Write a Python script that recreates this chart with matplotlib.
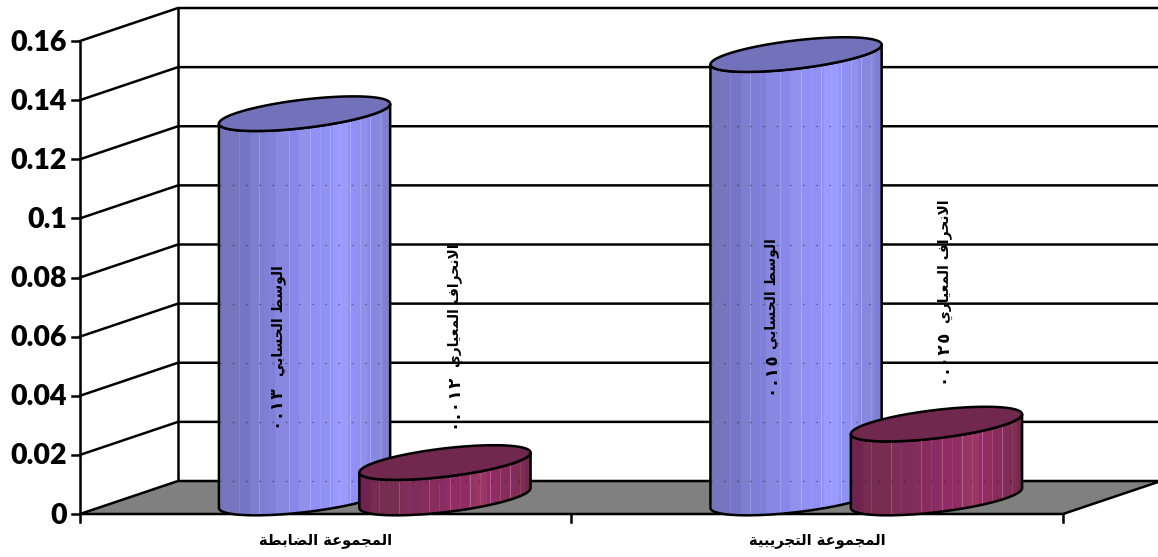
import matplotlib
matplotlib.use("Agg")
import matplotlib.pyplot as plt
from matplotlib.patches import Polygon, PathPatch
from matplotlib.path import Path
import numpy as np

categories = ["المجموعة الضابطة", "المجموعة التجريبية"]
series_names = ["الوسط الحسابي", "الانحراف المعياري"]
mean_values = [0.13, 0.15]
std_values = [0.012, 0.025]
mean_labels = ["٠.١٣", "٠.١٥"]
std_labels = ["٠.٠١٢", "٠.٠٢٥"]
y_ticks = [0, 0.02, 0.04, 0.06, 0.08, 0.1, 0.12, 0.14, 0.16]
y_tick_labels = ["0", "0.02", "0.04", "0.06", "0.08", "0.1", "0.12", "0.14", "0.16"]

# presentation forms: isolated, final, initial, medial
FORMS = {
    "ا": (0xFE8D, 0xFE8E, None, None), "ب": (0xFE8F, 0xFE90, 0xFE91, 0xFE92),
    "ة": (0xFE93, 0xFE94, None, None), "ت": (0xFE95, 0xFE96, 0xFE97, 0xFE98),
    "ج": (0xFE9D, 0xFE9E, 0xFE9F, 0xFEA0), "ح": (0xFEA1, 0xFEA2, 0xFEA3, 0xFEA4),
    "ر": (0xFEAD, 0xFEAE, None, None), "س": (0xFEB1, 0xFEB2, 0xFEB3, 0xFEB4),
    "ض": (0xFEBD, 0xFEBE, 0xFEBF, 0xFEC0), "ط": (0xFEC1, 0xFEC2, 0xFEC3, 0xFEC4),
    "ع": (0xFEC9, 0xFECA, 0xFECB, 0xFECC), "ف": (0xFED1, 0xFED2, 0xFED3, 0xFED4),
    "ل": (0xFEDD, 0xFEDE, 0xFEDF, 0xFEE0), "م": (0xFEE1, 0xFEE2, 0xFEE3, 0xFEE4),
    "ن": (0xFEE5, 0xFEE6, 0xFEE7, 0xFEE8), "و": (0xFEED, 0xFEEE, None, None),
    "ي": (0xFEF1, 0xFEF2, 0xFEF3, 0xFEF4),
}


def shape(text):
    # matplotlib has no bidi or joining, so build the visual order by hand
    out = []
    for word in text.split(" "):
        glyphs = []
        i = 0
        joins = False
        while i < len(word):
            f = FORMS[word[i]]
            if word[i] == "ل" and word[i + 1:i + 2] == "ا":
                glyphs.append(chr(0xFEFC if joins else 0xFEFB))
                joins = False
                i += 2
                continue
            nxt = i + 1 < len(word) and f[2] is not None
            if joins and nxt:
                glyphs.append(chr(f[3]))
            elif joins:
                glyphs.append(chr(f[1]))
            elif nxt:
                glyphs.append(chr(f[2]))
            else:
                glyphs.append(chr(f[0]))
            joins = nxt
            i += 1
        out.append("".join(reversed(glyphs)))
    return " ".join(reversed(out))


W, H = 1158, 557
x0_px, x1_px = 80, 1063
y0_px, ytop_px = 514, 41
px_per_cat = (x1_px - x0_px) / len(categories)
px_per_val = (y0_px - ytop_px) / 0.16
dx = 98 / px_per_cat
dy = 33 / px_per_val
bar_w = 1 / 3.5
LW = 1.8


def X(p):
    return (p - x0_px) / px_per_cat


def Y(p):
    return (y0_px - p) / px_per_val


fig = plt.figure(figsize=(W / 100, H / 100), dpi=100)
ax = fig.add_axes([0, 0, 1, 1])
ax.set_xlim(X(0), X(W))
ax.set_ylim(Y(H), Y(0))
ax.axis("off")

# side wall, back wall and gridlines
xmax = len(categories)
for v in y_ticks[1:]:
    ax.plot([0, dx, xmax + dx], [v, v + dy, v + dy], color="black", lw=LW, zorder=1,
            solid_joinstyle="miter")
ax.plot([0, 0], [0, y_ticks[-1]], color="black", lw=LW, zorder=1)
ax.plot([dx, dx], [dy, y_ticks[-1] + dy], color="black", lw=LW, zorder=1)

# floor
ax.add_patch(Polygon([(0, 0), (xmax, 0), (xmax + dx, dy), (dx, dy)], closed=True,
                     facecolor="#808080", edgecolor="black", lw=LW, zorder=2))

# ticks
for v, lab in zip(y_ticks, y_tick_labels):
    ax.plot([X(72), 0], [v, v], color="black", lw=LW, zorder=1)
    ax.text(X(67), v + Y(515.5), lab, ha="right", va="center", family="Lato",
            fontweight="heavy", fontsize=20.5)
for i in range(len(categories) + 1):
    ax.plot([i, i], [0, Y(522)], color="black", lw=LW, zorder=1)
for i, c in enumerate(categories):
    ax.text(i + 0.5, Y(541), shape(c), ha="center", va="center", fontweight="bold",
            fontsize=10.5, family="DejaVu Sans")


def cylinder(x_left, value, stops, top_color, z):
    cx = x_left + bar_w / 2 + dx / 2
    cy = dy / 2 - 0.5 / px_per_val
    a = bar_w / 2
    t0 = np.arctan2(dx, bar_w)
    t_all = np.linspace(0, 2 * np.pi, 200)
    t_low = np.linspace(t0 + np.pi, t0 + 2 * np.pi, 100)

    def ell(t, base):
        return np.column_stack([cx + a * np.cos(t) + dx / 2 * np.sin(t),
                                base + 1.05 * dy / 2 * np.sin(t)])

    low = ell(t_low, cy)
    up = ell(t_low[::-1], cy + value)
    body = np.vstack([low, up, low[:1]])
    codes = [Path.MOVETO] + [Path.LINETO] * (len(body) - 2) + [Path.CLOSEPOLY]
    ax.add_patch(PathPatch(Path(body, codes), facecolor="none", edgecolor="black", lw=LW,
                           zorder=z + 0.2))

    # banded horizontal shading with pale seams between the bands
    half = np.hypot(a, dx / 2)
    n = int(round(2 * half * px_per_cat))
    u = np.linspace(0, 1, n)
    pos, cols = zip(*stops)
    rgb = np.array([matplotlib.colors.to_rgb(c) for c in cols])
    img = np.column_stack([np.interp(u, pos, rgb[:, k]) for k in range(3)])
    img = np.round(img * 28) / 28
    strengths = [0.0, 0.1, 0.0, 0.18, 0.04, 0.0, 0.18, 0.08, 0.2, 0.08, 0.25, 0.1, 0.25, 0.15, 0.25, 0.08]
    for j, s in enumerate(strengths):
        col = int((j + 1) * n / (len(strengths) + 1))
        img[col] = img[col] + (1 - img[col]) * s
    ext = [cx - half, cx + half, cy - dy, cy + value + dy]
    im = ax.imshow(img[None, :, :], extent=ext, aspect="auto", interpolation="nearest",
                   zorder=z)
    clip = PathPatch(Path(body, codes), transform=ax.transData)
    im.set_clip_path(clip)

    # gridlines behind the bar just show through at the seams
    for v in y_ticks[:-1]:
        if v + dy < value:
            seen, = ax.plot([cx - half, cx + half], [v + dy, v + dy], color="black", lw=1.0,
                            alpha=0.3, linestyle=(0, (1.5, 8)), zorder=z + 0.1)
            seen.set_clip_path(clip)

    ax.add_patch(Polygon(ell(t_all, cy + value), closed=True, facecolor=top_color,
                         edgecolor="black", lw=LW, zorder=z + 0.3))


blue_stops = [(0, "#7272B8"), (0.12, "#7777C4"), (0.45, "#8C8CEC"), (0.72, "#9999FF"),
              (0.9, "#8A8AE4"), (1, "#7F7FD0")]
maroon_stops = [(0, "#70284E"), (0.15, "#752A52"), (0.45, "#8A305F"), (0.72, "#993366"),
                (0.9, "#842C58"), (1, "#752850")]

for i in range(len(categories)):
    cylinder(i + 0.5 - bar_w, mean_values[i], blue_stops, "#7272BA", 3 + i * 2)
    cylinder(i + 0.5, std_values[i], maroon_stops, "#70284E", 4 + i * 2)

# data labels run up the chart, series name above its value
mean_name_pos = [(279, 321), (772, 294)]
mean_num_pos = [(278, 409), (773, 376)]
std_name_pos = [(455, 305), (945, 261)]
std_num_pos = [(456, 404), (945, 359)]
spaced = "\u200a"


def bar_label(pos, txt, size, weight="bold"):
    ax.text(X(pos[0]), Y(pos[1]), txt, rotation=90, ha="center", va="center",
            fontweight=weight, fontsize=size, zorder=20, family="DejaVu Sans")


for i in range(len(categories)):
    bar_label(mean_name_pos[i], shape(series_names[0]), 10)
    bar_label(std_name_pos[i], shape(series_names[1]), 10)
    bar_label(mean_num_pos[i], spaced.join(mean_labels[i]), 12)
    bar_label(std_num_pos[i], spaced.join(std_labels[i]), 12)

fig.savefig("out.png", dpi=100)
